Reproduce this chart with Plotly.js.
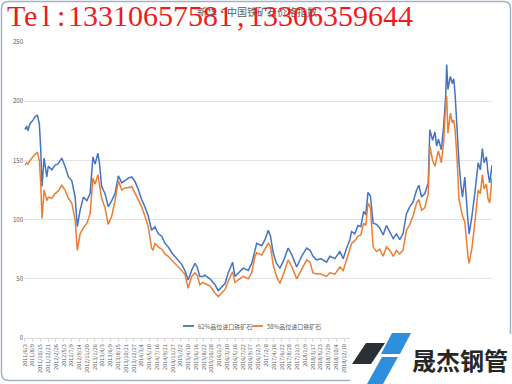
<!DOCTYPE html>
<html><head><meta charset="utf-8">
<script src="https://cdn.plot.ly/plotly-3.0.1.min.js"></script>
<style>html,body{margin:0;padding:0;background:#fff}#chart{width:512px;height:384px}</style>
</head><body><div id="chart"></div>
<script>
const dates = ['2011-06-05','2011-06-19','2011-06-30','2011-07-17','2011-08-13','2011-08-30','2011-09-19','2011-10-06','2011-10-18','2011-10-29',
'2011-11-16','2011-12-09','2011-12-22','2012-01-21','2012-02-19','2012-03-15','2012-04-16','2012-05-14','2012-06-12','2012-07-11',
'2012-08-09','2012-08-28','2012-09-21','2012-10-19','2012-11-18','2012-12-16','2013-01-09','2013-01-28','2013-02-21','2013-03-06',
'2013-03-25','2013-04-23','2013-05-21','2013-06-20','2013-07-18','2013-08-16','2013-09-14','2013-10-12','2013-11-10','2013-12-09',
'2014-01-07','2014-02-05','2014-03-04','2014-04-01','2014-04-30','2014-05-29','2014-06-10','2014-06-27','2014-07-25','2014-08-24',
'2014-09-21','2014-10-19','2014-11-18','2014-12-16','2015-01-14','2015-02-13','2015-03-11','2015-04-09','2015-05-08','2015-06-06',
'2015-06-25','2015-07-18','2015-08-13','2015-08-30','2015-10-13','2015-11-25','2015-12-23','2016-01-22','2016-02-20','2016-03-18',
'2016-04-25','2016-05-15','2016-06-27','2016-07-25','2016-09-07','2016-10-06','2016-11-04','2016-11-18','2016-12-31','2017-01-29',
'2017-02-26','2017-03-17','2017-04-09','2017-05-08','2017-06-06','2017-07-10','2017-08-16','2017-09-18','2017-10-28','2017-12-10',
'2018-01-22','2018-02-20','2018-03-18','2018-04-17','2018-05-24','2018-07-12','2018-08-10','2018-09-22','2018-11-04','2018-12-03',
'2019-01-01','2019-01-29','2019-02-13','2019-03-12','2019-04-09','2019-05-03','2019-05-28','2019-06-15','2019-07-04','2019-07-25',
'2019-08-17','2019-09-15','2019-10-13','2019-11-11','2019-12-10','2020-01-08','2020-02-06','2020-03-05','2020-04-02','2020-04-30',
'2020-05-30','2020-06-28','2020-07-26','2020-08-25','2020-09-14','2020-10-07','2020-11-04','2020-12-03','2020-12-17','2021-01-10',
'2021-01-30','2021-02-14','2021-03-01','2021-03-26','2021-04-15','2021-05-03','2021-05-11','2021-05-22','2021-06-12','2021-06-28',
'2021-07-11','2021-07-23','2021-08-09','2021-08-25','2021-09-10','2021-09-24','2021-10-14','2021-10-27','2021-11-09','2021-11-20',
'2021-12-13','2022-01-08','2022-02-06','2022-02-25','2022-03-14','2022-03-29','2022-04-18','2022-05-01','2022-05-16','2022-06-05'];
const fe62 = [176,179,175,181,184,187,188,181,159,128,
152,136,145,142,146,147,152,145,136,133,
119,94,108,119,116,122,153,147,156,148,
128,122,111,116,122,137,131,133,135,136,
132,125,117,111,103,91,92,94,88,86,
80,77,72,69,66,62,57,49,57,63,
60,52,52,53,50,45,40,43,46,55,
64,52,56,59,57,63,74,80,78,83,
91,86,72,63,59,66,76,70,60,69,
76,74,69,66,67,64,69,67,73,67,
76,83,90,88,95,94,107,104,123,120,
97,96,93,87,95,90,84,88,83,88,
105,111,115,125,129,119,122,131,176,167,
174,162,168,159,179,205,231,210,221,215,
219,205,173,148,130,119,136,115,100,88,
102,122,148,142,160,148,153,140,131,146];
const fe58 = [146,148,147,150,153,155,157,150,130,101,
125,116,119,118,122,124,129,125,118,114,
100,74,88,93,97,105,135,130,138,130,
118,110,96,103,116,133,125,127,127,128,
122,116,111,103,94,76,74,80,77,75,
71,69,66,63,60,57,54,42,52,55,
53,45,47,46,44,38,35,38,41,48,
56,47,50,52,50,55,69,72,70,75,
80,77,62,52,46,55,66,60,50,58,
66,64,55,54,54,52,55,54,60,57,
66,74,80,82,86,87,97,95,114,110,
77,73,75,69,77,74,69,74,71,74,
91,96,103,114,117,108,110,122,162,150,
145,152,158,148,165,198,204,173,190,182,
184,175,150,117,110,103,98,83,70,63,
75,97,125,122,138,126,130,118,114,135];
const seriesNames = ['62%品位进口铁矿石', '58%品位进口铁矿石'];
const seriesColors = ['#4472c4', '#ed7d31'];
const yTicks = [0, 50, 100, 150, 200, 250];
const chartTitle = '新华·中国铁矿石价格指数';
const watermark = 'Tel:13310657581,13306359644';
const logoText = '晟杰钢管';

// x tick labels (category-style dates)
const tickVals = [], tickText = [];
(function(){
  let t = Date.UTC(2011, 5, 3); const end = Date.UTC(2022, 5, 1);
  while (t <= end) {
    const d = new Date(t);
    tickVals.push(d.toISOString().slice(0, 10));
    tickText.push(d.getUTCFullYear() + '/' + (d.getUTCMonth() + 1) + '/' + d.getUTCDate());
    t += 67 * 864e5;
  }
})();

const W = 512, H = 384, L = 24, R = 20, T = 42, B = 46;
const PW = W - L - R, PH = H - T - B;
const px = v => (v - L) / PW;
const py = v => (H - B - v) / PH;

function poly(pts) {
  return 'M ' + pts.map(p => px(p[0]) + ',' + py(p[1])).join(' L ') + ' Z';
}
function roundRect(x0, y0, x1, y1, r) {
  const rx = r / PW, ry = r / PH;
  const X0 = px(x0), X1 = px(x1), Y0 = py(y0), Y1 = py(y1);
  return `M ${X0 + rx},${Y0} L ${X1 - rx},${Y0} Q ${X1},${Y0} ${X1},${Y0 - ry} L ${X1},${Y1 + ry} Q ${X1},${Y1} ${X1 - rx},${Y1} L ${X0 + rx},${Y1} Q ${X0},${Y1} ${X0},${Y1 + ry} L ${X0},${Y0 - ry} Q ${X0},${Y0} ${X0 + rx},${Y0} Z`;
}

const traces = [fe62, fe58].map((vals, i) => ({
  type: 'scatter', mode: 'lines', x: dates, y: vals, name: seriesNames[i],
  line: {color: seriesColors[i], width: 1.5}, showlegend: false
}));

const shapes = [
  {type: 'path', xref: 'paper', yref: 'paper', path: roundRect(1.5, 1.5, 510.5, 380.5, 7), line: {color: '#a3b2c4', width: 1.5}, layer: 'below'},
  // legend samples
  {type: 'line', xref: 'paper', yref: 'paper', x0: px(183), x1: px(194), y0: py(326), y1: py(326), line: {color: seriesColors[0], width: 1.8}},
  {type: 'line', xref: 'paper', yref: 'paper', x0: px(252), x1: px(263), y0: py(326), y1: py(326), line: {color: seriesColors[1], width: 1.8}},
  // logo
  {type: 'rect', xref: 'paper', yref: 'paper', x0: px(350), x1: px(512), y0: py(334), y1: py(384), fillcolor: '#ffffff', line: {width: 0}, layer: 'above'},
  {type: 'path', xref: 'paper', yref: 'paper', path: poly([[352, 364], [366, 343], [385, 343], [371, 364]]), fillcolor: '#2b3038', line: {width: 0}, layer: 'above'},
  {type: 'path', xref: 'paper', yref: 'paper', path: poly([[381, 354], [392, 333], [411, 333], [400, 354]]), fillcolor: '#2f8fdc', line: {width: 0}, layer: 'above'},
  {type: 'path', xref: 'paper', yref: 'paper', path: poly([[367, 384], [382, 357], [398, 357], [383, 384]]), fillcolor: '#2f8fdc', line: {width: 0}, layer: 'above'}
];

const annotations = [
  {xref: 'paper', yref: 'paper', x: px(196), y: py(326), xanchor: 'left', yanchor: 'middle', text: seriesNames[0], showarrow: false, font: {size: 6, color: '#595959', family: 'Noto Sans CJK SC'}},
  {xref: 'paper', yref: 'paper', x: px(265), y: py(326), xanchor: 'left', yanchor: 'middle', text: seriesNames[1], showarrow: false, font: {size: 6, color: '#595959', family: 'Noto Sans CJK SC'}},
  {xref: 'paper', yref: 'paper', x: px(460), y: py(359), xanchor: 'center', yanchor: 'middle', text: logoText, showarrow: false, font: {size: 24, color: '#262626', family: 'Noto Sans CJK SC', weight: 'bold'}}
];
watermark.split('').forEach((ch, i) => {
  annotations.push({xref: 'paper', yref: 'paper', x: px(8 + 15 * i + 7.5), y: py(16), xanchor: 'center', yanchor: 'middle',
    text: ch, showarrow: false, font: {size: 30, color: '#ee1c1c', family: 'Liberation Serif'}});
});

const layout = {
  width: W, height: H,
  margin: {l: L, r: R, t: T, b: B, pad: 0},
  paper_bgcolor: '#ffffff', plot_bgcolor: '#ffffff',
  font: {family: 'Noto Sans CJK SC, Noto Sans', color: '#595959'},
  title: {text: chartTitle, x: px(257), xref: 'paper', xanchor: 'center', y: 1 - 12 / H, yanchor: 'middle', font: {size: 10, color: '#595959', family: 'Noto Sans CJK SC'}},
  xaxis: {type: 'date', range: ['2011-05-27', '2022-06-05'], tickmode: 'array', tickvals: tickVals, ticktext: tickText,
    tickangle: -90, tickfont: {size: 5.5, color: '#595959'}, showgrid: false, showline: true, linecolor: '#d9d9d9', linewidth: 1,
    ticks: 'outside', ticklen: 3, tickcolor: '#d9d9d9', zeroline: false, automargin: false, fixedrange: true},
  yaxis: {range: [0, 250], tickmode: 'array', tickvals: yTicks, ticktext: yTicks.map(String), tickfont: {size: 6, color: '#595959'},
    showgrid: true, gridcolor: '#e3e3e3', gridwidth: 1, zeroline: false, showline: false, ticks: '', automargin: false, fixedrange: true},
  shapes: shapes, annotations: annotations, showlegend: false
};

Plotly.newPlot('chart', traces, layout, {displayModeBar: false, staticPlot: true});
</script></body></html>
